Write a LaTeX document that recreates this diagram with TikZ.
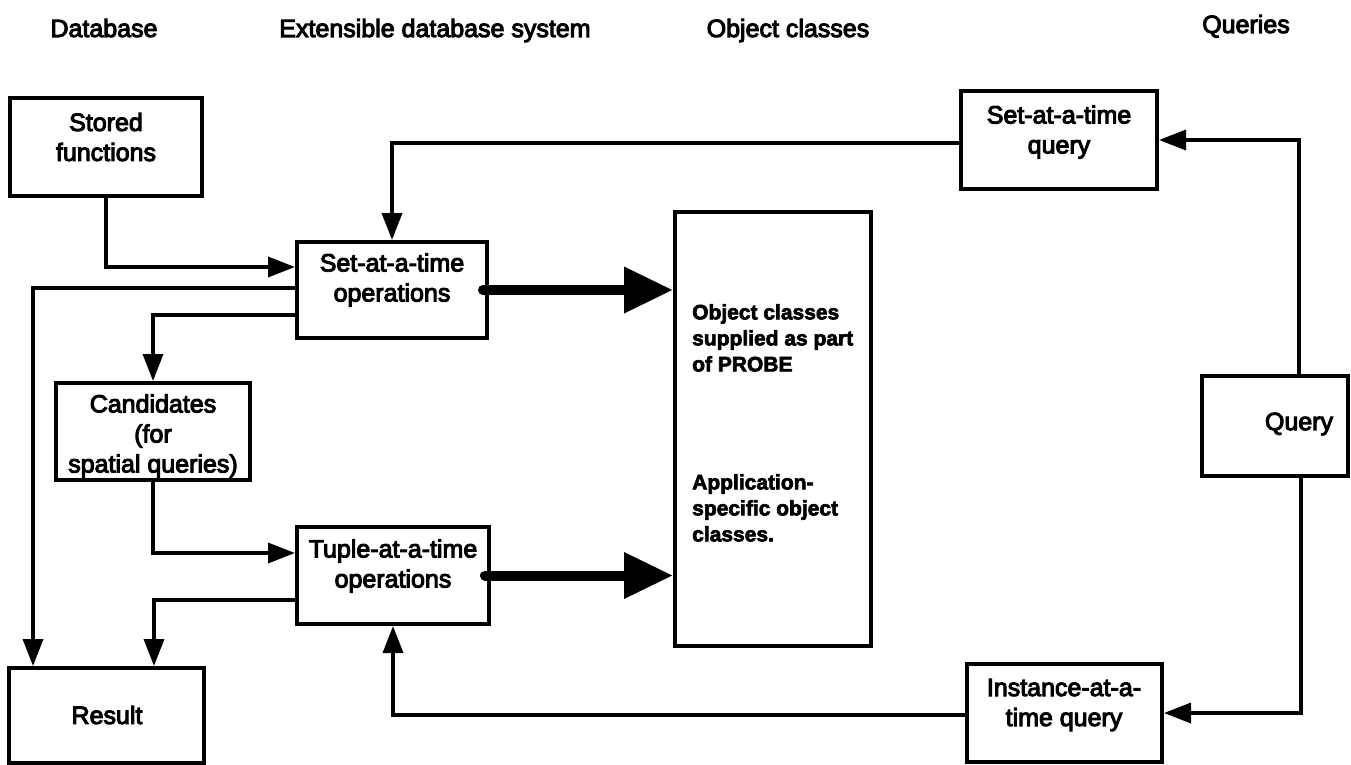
\documentclass[tikz,border=0pt]{standalone}
\usepackage{fontspec}
\setmainfont{Liberation Sans}
\newfontfamily\scanfont{Liberation Sans}[FakeBold=4]
\newfontfamily\heavyfont{Liberation Sans Bold}[FakeBold=3]
\usetikzlibrary{arrows.meta}
\begin{document}
\begin{tikzpicture}[x=1pt,y=-1pt,
  box/.style={draw, line width=4pt, inner sep=0pt},
  lbl/.style={font=\scanfont\fontsize{25}{30}\selectfont, align=center, inner sep=0pt},
  head/.style={font=\scanfont\fontsize{25}{30}\selectfont, inner sep=0pt, anchor=base},
  bigtxt/.style={font=\heavyfont\fontsize{21}{26}\selectfont, align=left, inner sep=0pt, anchor=north west},
  conn/.style={line width=3.5pt, -{Triangle[length=27pt,width=20pt]}},
  fat/.style={line width=10pt, line cap=round, -{Triangle[length=49pt,width=44pt]}}]
\useasboundingbox (0,0) rectangle (1351,765);

% column headings
\node[head] (h-db)  at (104,37) {Database};
\node[head] (h-ext) at (435,37) {Extensible database system};
\node[head] (h-obj) at (788,37) {Object classes};
\node[head] (h-qry) at (1246,33) {Queries};

% boxes
\node[box, minimum width=192pt, minimum height=98pt]  (stored) at (106,147) {};
\node[box, minimum width=190pt, minimum height=96pt]  (setop)  at (392,290) {};
\node[box, minimum width=194pt, minimum height=97pt]  (cand)   at (153,431.5) {};
\node[box, minimum width=192pt, minimum height=97pt]  (tuple)  at (393,575.5) {};
\node[box, minimum width=195pt, minimum height=95pt]  (result) at (106.5,715.5) {};
\node[box, minimum width=196pt, minimum height=434pt] (big)    at (773,429) {};
\node[box, minimum width=196pt, minimum height=98pt]  (setq)   at (1059,140) {};
\node[box, minimum width=146pt, minimum height=100pt] (query)  at (1275,426) {};
\node[box, minimum width=195pt, minimum height=98pt]  (instq)  at (1064.5,713) {};

% box texts
\node[lbl] (stored-t) at (106,137) {Stored\\functions};
\node[lbl] (setop-t)  at (392,280) {Set-at-a-time\\operations};
\node[lbl] (cand-t)   at (153,436) {Candidates\\(for\\spatial queries)};
\node[lbl] (tuple-t)  at (393,566) {Tuple-at-a-time\\operations};
\node[lbl] (result-t) at (107,715) {Result};
\node[lbl] (setq-t)   at (1059,132) {Set-at-a-time\\query};
\node[lbl] (query-t)  at (1299,424) {Query};
\node[lbl] (instq-t)  at (1064,705) {Instance-at-a-\\time query};
\node[bigtxt] (big-t1) at (692,304) {Object classes\\supplied as part\\of PROBE};
\node[bigtxt] (big-t2) at (692,474) {Application-\\specific object\\classes.};

% connectors
\draw[conn] (stored.south) |- ([yshift=23pt]setop.west);
\draw[conn] ([yshift=2pt]setop.west) -| ([xshift=-73.5pt]result.north);
\draw[conn] ([yshift=-25pt]setop.west) -| (cand.north);
\draw[conn] (cand.south) |- ([yshift=22.5pt]tuple.west);
\draw[conn] ([yshift=-24.5pt]tuple.west) -| ([xshift=47.5pt]result.north);
\draw[conn] ([yshift=-3pt]setq.west) -| (setop.north);
\draw[conn] ([yshift=-2pt]instq.west) -| (tuple.south);
\draw[conn] ([xshift=24pt]query.north) |- (setq.east);
\draw[conn] ([xshift=26pt]query.south) |- (instq.east);

% heavy arrows into the object classes
\draw[fat] ([xshift=-6pt]setop.east) -- (setop.east -| big.west);
\draw[fat] ([xshift=-6pt]tuple.east) -- (tuple.east -| big.west);
\end{tikzpicture}
\end{document}
